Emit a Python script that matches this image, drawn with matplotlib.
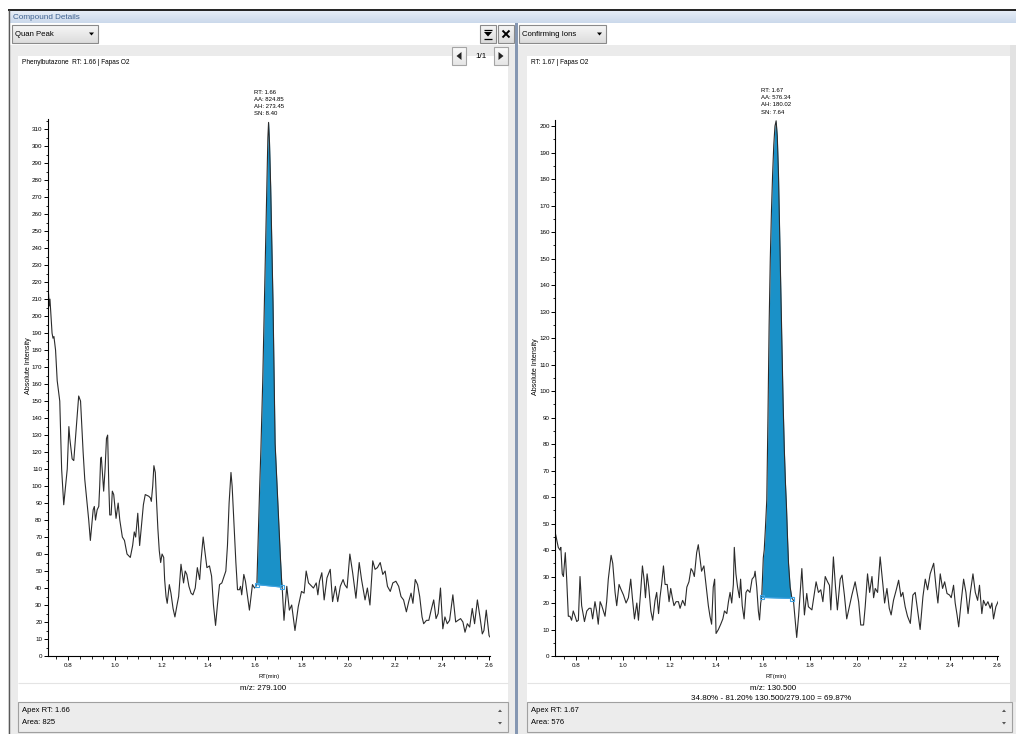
import numpy as np
import matplotlib
matplotlib.use("Agg")
import matplotlib.pyplot as plt
import matplotlib.colors as mcolors
from matplotlib.patches import Rectangle, Polygon
from matplotlib.ticker import MultipleLocator

# ---------------- data ----------------
quan_rt = [0.716, 0.719, 0.722, 0.731, 0.735, 0.739, 0.746, 0.753, 0.764, 0.772, 0.781, 0.796, 0.803, 0.807,
           0.817, 0.824, 0.845, 0.853, 0.864, 0.871, 0.881, 0.888, 0.895, 0.907, 0.912, 0.917, 0.924, 0.931,
           0.935, 0.939, 0.942, 0.952, 0.958, 0.964, 0.969, 0.974, 0.978, 0.984, 0.989, 0.995, 1.005, 1.014,
           1.021, 1.032, 1.041, 1.052, 1.066, 1.076, 1.083, 1.089, 1.098, 1.106, 1.116, 1.122, 1.130, 1.145,
           1.152, 1.156, 1.162, 1.167, 1.173, 1.177, 1.184, 1.190, 1.196, 1.202, 1.209, 1.213, 1.219, 1.224,
           1.233, 1.240, 1.249, 1.257, 1.266, 1.273, 1.283, 1.290, 1.294, 1.301, 1.308, 1.317, 1.326, 1.334,
           1.344, 1.353, 1.363, 1.368, 1.378, 1.384, 1.394, 1.405, 1.414, 1.422, 1.431, 1.439, 1.448, 1.458,
           1.468, 1.475, 1.482, 1.489, 1.497, 1.502, 1.509, 1.518, 1.525, 1.533, 1.538, 1.543, 1.552, 1.559,
           1.568, 1.576, 1.583, 1.589, 1.598, 1.604, 1.608, 1.612, 1.616, 1.620, 1.625, 1.629, 1.633, 1.638,
           1.643, 1.647, 1.651, 1.655, 1.658, 1.662, 1.667, 1.672, 1.677, 1.681, 1.686, 1.691, 1.697, 1.703,
           1.709, 1.714, 1.716, 1.724, 1.736, 1.747, 1.757, 1.771, 1.785, 1.799, 1.810, 1.819, 1.829, 1.843,
           1.850, 1.862, 1.869, 1.876, 1.886, 1.896, 1.908, 1.922, 1.932, 1.944, 1.954, 1.965, 1.977, 1.984,
           1.994, 2.006, 2.018, 2.032, 2.046, 2.056, 2.071, 2.081, 2.092, 2.104, 2.114, 2.124, 2.136, 2.147,
           2.157, 2.167, 2.179, 2.190, 2.203, 2.215, 2.225, 2.236, 2.248, 2.258, 2.268, 2.276, 2.286, 2.296,
           2.305, 2.315, 2.322, 2.334, 2.344, 2.354, 2.365, 2.375, 2.384, 2.394, 2.404, 2.413, 2.423, 2.433,
           2.447, 2.459, 2.469, 2.480, 2.490, 2.499, 2.509, 2.519, 2.530, 2.540, 2.552, 2.563, 2.573, 2.580,
           2.590, 2.602, 2.607]
quan_int = [213, 206, 210, 190, 187, 188, 180, 162, 150, 110, 89, 110, 135, 128,
            116, 115, 153, 150, 120, 104, 90, 80, 68, 86, 88, 80, 86, 88,
            100, 116, 117, 97, 110, 128, 130, 100, 83, 83, 97, 95, 81, 90,
            80, 70, 68, 60, 58, 65, 73, 70, 84, 65, 80, 89, 95, 94,
            93, 91, 100, 112, 108, 95, 75, 62, 55, 60, 58, 45, 35, 31,
            42, 37, 28, 23, 30, 35, 54, 47, 43, 50, 48, 41, 37, 36,
            40, 52, 45, 55, 70, 63, 52, 53, 47, 30, 18, 30, 42, 43,
            47, 50, 65, 90, 108, 100, 80, 55, 39, 39, 41, 36, 48, 44,
            35, 27, 35, 42, 40, 41, 43, 62, 82, 100, 121, 142, 162, 195,
            228, 255, 282, 305, 314, 302, 276, 242, 208, 170, 125, 110, 92, 74,
            57, 44, 41, 21, 41, 27, 30, 15, 29, 38, 37, 50, 43, 41,
            40, 43, 36, 44, 49, 33, 46, 51, 32, 41, 32, 41, 45, 42,
            40, 60, 49, 34, 55, 45, 33, 40, 30, 56, 51, 52, 55, 48,
            50, 41, 38, 43, 44, 41, 35, 33, 26, 32, 37, 31, 45, 42,
            35, 23, 19, 21, 21, 27, 33, 22, 25, 40, 16, 23, 19, 21,
            36, 20, 21, 22, 20, 14, 19, 17, 28, 19, 33, 23, 13, 15,
            27, 12, 11]

conf_rt = [0.710, 0.717, 0.724, 0.731, 0.735, 0.741, 0.746, 0.754, 0.760, 0.767, 0.774, 0.781, 0.788, 0.796,
           0.803, 0.810, 0.817, 0.824, 0.836, 0.846, 0.856, 0.864, 0.871, 0.881, 0.888, 0.895, 0.903, 0.910,
           0.917, 0.924, 0.931, 0.938, 0.950, 0.957, 0.967, 0.974, 0.984, 0.993, 1.003, 1.014, 1.024, 1.034,
           1.041, 1.050, 1.060, 1.067, 1.077, 1.084, 1.091, 1.097, 1.104, 1.111, 1.120, 1.128, 1.138, 1.145,
           1.153, 1.159, 1.166, 1.174, 1.181, 1.190, 1.198, 1.205, 1.212, 1.219, 1.228, 1.238, 1.245, 1.256,
           1.266, 1.274, 1.283, 1.292, 1.299, 1.306, 1.316, 1.323, 1.330, 1.337, 1.347, 1.356, 1.366, 1.373,
           1.380, 1.387, 1.393, 1.399, 1.409, 1.419, 1.428, 1.435, 1.445, 1.452, 1.459, 1.466, 1.473, 1.477,
           1.484, 1.491, 1.499, 1.504, 1.511, 1.519, 1.527, 1.534, 1.544, 1.553, 1.562, 1.566, 1.573, 1.580,
           1.585, 1.590, 1.594, 1.598, 1.601, 1.605, 1.610, 1.616, 1.621, 1.626, 1.631, 1.636, 1.641, 1.646,
           1.651, 1.656, 1.661, 1.666, 1.671, 1.676, 1.681, 1.686, 1.691, 1.696, 1.700, 1.705, 1.709, 1.716,
           1.723, 1.730, 1.744, 1.752, 1.766, 1.777, 1.787, 1.794, 1.809, 1.827, 1.837, 1.847, 1.856, 1.866,
           1.876, 1.884, 1.890, 1.901, 1.910, 1.918, 1.930, 1.938, 1.948, 1.958, 1.970, 1.980, 1.994, 2.009,
           2.018, 2.030, 2.037, 2.047, 2.056, 2.066, 2.073, 2.080, 2.090, 2.101, 2.113, 2.120, 2.130, 2.140,
           2.148, 2.158, 2.170, 2.180, 2.190, 2.198, 2.208, 2.218, 2.230, 2.241, 2.251, 2.261, 2.272, 2.284,
           2.294, 2.304, 2.315, 2.330, 2.340, 2.348, 2.358, 2.368, 2.377, 2.387, 2.398, 2.405, 2.415, 2.422,
           2.430, 2.437, 2.447, 2.458, 2.468, 2.477, 2.487, 2.498, 2.508, 2.518, 2.526, 2.536, 2.543, 2.553,
           2.562, 2.572, 2.579, 2.586, 2.596, 2.608]
conf_int = [47, 44, 41, 40, 41, 31, 30, 39, 29, 15, 15, 13.5, 17, 15,
            13, 13.5, 30, 19, 13, 17, 18, 18, 14, 20.5, 17, 12, 20.5, 19,
            17, 15, 20.5, 29, 38, 35, 24, 19, 27, 25, 23, 20, 22, 29,
            22, 14, 20, 13.5, 25, 34, 29, 22, 31, 26, 17, 13.5, 21, 24,
            16, 22, 27, 34, 27, 27, 20.5, 25.5, 22, 19, 20.5, 20.5, 18, 21,
            19, 26, 28, 33, 32, 30, 39, 42, 37, 32, 34, 27, 19, 15,
            12, 26, 29, 8.5, 10, 12, 14, 17, 16, 20.5, 24, 20, 27, 41,
            31, 26, 22, 29, 19, 14, 24, 25, 24, 29, 30, 32, 26, 17,
            13.6, 20, 22, 30, 37, 40, 48, 59, 90, 125, 150, 168, 182, 193,
            200, 202, 196, 182, 160, 138, 115, 95, 78, 65, 57, 44, 35, 26,
            22, 21, 7, 15, 33, 15.5, 23.6, 18.6, 17.4, 28, 24, 25, 20.5, 30,
            28, 26.7, 17.4, 37.4, 26, 17.4, 29, 30.5, 23, 14, 19, 23, 28, 20.5,
            11.7, 11.7, 18.6, 31, 24, 30, 22, 25.5, 24, 37.4, 26.7, 20, 25.5, 18,
            15.5, 21, 25, 28.6, 22.4, 24, 18.6, 15, 12.3, 23, 24, 17.4, 10, 22.4,
            29, 25, 31, 35, 26, 20, 31, 25.5, 28, 23.6, 23, 22, 26.7, 20,
            15.5, 11, 20, 29, 24, 16, 24, 31, 24, 21, 26.7, 16, 21, 19,
            20.5, 18, 20, 14, 18.6, 21]

# integration baselines: (start RT, start intensity, end RT, end intensity)
quan_baseline = [1.608, 42.0, 1.716, 40.5]
conf_baseline = [1.594, 22.1, 1.723, 21.7]
# peak labels
quan_peak = {"rt": 1.658, "height": 314, "lines": ["RT: 1.66", "AA: 824.85", "AH: 273.45", "SN: 8.40"]}
conf_peak = {"rt": 1.656, "height": 202, "lines": ["RT: 1.67", "AA: 576.34", "AH: 180.02", "SN: 7.64"]}

quan_title = "Phenylbutazone  RT: 1.66 | Fapas O2"
conf_title = "RT: 1.67 | Fapas O2"
quan_mz = "m/z: 279.100"
conf_mz = "m/z: 130.500"
conf_ratio = "34.80% - 81.20% 130.500/279.100 = 69.87%"
quan_info = ["Apex RT: 1.66", "Area: 825"]
conf_info = ["Apex RT: 1.67", "Area: 576"]

# ---------------- figure ----------------
plt.rcParams['font.family'] = ['Liberation Sans', 'DejaVu Sans']
W, H = 1016, 734
fig = plt.figure(figsize=(W / 100, H / 100), dpi=100)
ui = fig.add_axes([0, 0, 1, 1], zorder=0)
ui.axis('off')


def box(x0, y0, x1, y1, fc, ec='none', lw=0.8, z=1):
    ui.add_patch(Rectangle((x0, y0), x1 - x0, y1 - y0, facecolor=fc, edgecolor=ec, linewidth=lw, zorder=z))


def grad(x0, y0, x1, y1, c0, c1, z=1):
    g = np.linspace(0, 1, 32)[:, None, None]
    a = np.array(mcolors.to_rgb(c0))[None, None, :]
    b = np.array(mcolors.to_rgb(c1))[None, None, :]
    ui.imshow(a + (b - a) * g, extent=(x0, x1, y1, y0), aspect='auto', zorder=z, interpolation='bilinear')


def line(xs, ys, c, lw=0.8, z=3):
    ui.plot(xs, ys, color=c, lw=lw, zorder=z, solid_capstyle='butt')


def dropdown(x0, x1, label):
    grad(x0, 25, x1, 43, '#f7f7f7', '#dcdcdc', z=2)
    box(x0, 25, x1, 43, 'none', ec='#8a8a8a', lw=0.8, z=3)
    ui.text(x0 + 3, 34.5, label, fontsize=5.6, va='center', ha='left', zorder=4)
    ui.add_patch(Polygon([[x1 - 9, 32.5], [x1 - 4, 32.5], [x1 - 6.5, 35.5]], closed=True, fc='black', ec='none', zorder=4))


box(0, 0, W, H, 'white', z=0)
box(8, 10, W, H, '#ebebeb', z=1)
grad(9, 11, W, 23, '#e6edf7', '#cbd9eb', z=2)
ui.text(13, 17.5, 'Compound Details', fontsize=5.9, color='#3f6290', va='center', ha='left', zorder=4)
line([8, W], [10, 10], '#111111', lw=1.3)
line([8.5, 8.5], [10, H], '#5a5a5a', lw=1.0)
box(9, 23, W, 45, 'white', z=2)

dropdown(12, 98, 'Quan Peak')
dropdown(519, 606, 'Confirming Ions')

# filter & close buttons
grad(480, 25, 496, 43, '#f7f7f7', '#dcdcdc', z=2)
box(480, 25, 496, 43, 'none', ec='#8a8a8a', z=3)
line([484, 492], [29.5, 29.5], 'black', lw=0.9, z=4)
ui.add_patch(Polygon([[484, 32], [492, 32], [488, 36.5]], closed=True, fc='black', ec='none', zorder=4))
line([484, 492], [38.5, 38.5], 'black', lw=0.9, z=4)
grad(498, 25, 514, 43, '#f7f7f7', '#dcdcdc', z=2)
box(498, 25, 514, 43, 'none', ec='#8a8a8a', z=3)
line([502.5, 509.5], [30.5, 37.5], 'black', lw=1.4, z=4)
line([502.5, 509.5], [37.5, 30.5], 'black', lw=1.4, z=4)

# splitter
box(514.5, 23, 518, H, '#8597b2', z=2)

# plot cards
box(18, 56, 508, 702, 'white', z=2)
line([18, 508], [683, 683], '#e4e4e4', lw=0.8)
box(527, 56, 1010, 702, 'white', z=2)
line([527, 1010], [683, 683], '#e4e4e4', lw=0.8)
box(1010, 45, W, 702, '#e2e2e2', z=2)

# pager
for bx0, pts in [(452, [[461.5, 52], [461.5, 60], [456.5, 56]]), (494, [[498.5, 52], [498.5, 60], [503.5, 56]])]:
    grad(bx0, 47, bx0 + 14, 65, '#fbfbfb', '#e6e6e6', z=3)
    box(bx0, 47, bx0 + 14, 65, 'none', ec='#a5a5a5', z=4)
    ui.add_patch(Polygon(pts, closed=True, fc='#222222', ec='none', zorder=5))
ui.text(481, 56.5, '1/1', fontsize=5.8, va='center', ha='center', zorder=5)

# titles
ui.text(22, 62, quan_title, fontsize=4.7, va='center', ha='left', zorder=5)
ui.text(531, 62, conf_title, fontsize=4.7, va='center', ha='left', zorder=5)

# m/z captions
ui.text(263, 689, quan_mz, fontsize=5.8, va='center', ha='center', zorder=5)
ui.text(773, 689, conf_mz, fontsize=5.8, va='center', ha='center', zorder=5)
ui.text(771, 699, conf_ratio, fontsize=5.8, va='center', ha='center', zorder=5)

# info boxes
for x0, x1, info in [(18, 508, quan_info), (527, 1012, conf_info)]:
    box(x0, 702, x1, 732, '#ececec', ec='#a0a0a0', lw=0.8, z=6)
    ui.text(x0 + 4, 711, info[0], fontsize=5.5, va='center', ha='left', zorder=7)
    ui.text(x0 + 4, 723, info[1], fontsize=5.5, va='center', ha='left', zorder=7)
    ui.add_patch(Polygon([[x1 - 10, 712], [x1 - 6, 712], [x1 - 8, 709.5]], closed=True, fc='#555555', ec='none', zorder=7))
    ui.add_patch(Polygon([[x1 - 10, 722], [x1 - 6, 722], [x1 - 8, 724.5]], closed=True, fc='#555555', ec='none', zorder=7))

ui.set_xlim(0, W)
ui.set_ylim(H, 0)

# ---------------- chromatograms ----------------
FILL = '#1a91c8'
BASE = '#3ea4e4'


def chrom(rect, rt, inten, xlim, ylim, ytop_tick, baseline, peak):
    ax = fig.add_axes(rect, zorder=2)
    ax.set_facecolor('none')
    rt = np.asarray(rt, float)
    inten = np.asarray(inten, float)
    s, sv, e, ev = baseline
    m = (rt >= s - 1e-9) & (rt <= e + 1e-9)
    seg = rt[m]
    base = np.interp(seg, [s, e], [sv, ev])
    ax.fill_between(seg, base, inten[m], color=FILL, lw=0, zorder=1)
    ax.plot(rt, inten, color='#2b2b2b', lw=0.8, zorder=2)
    ax.plot([s, e], [sv, ev], color=BASE, lw=0.8, zorder=3, marker='s', ms=3.2,
            mfc='none', mec=BASE, mew=0.8)
    ax.annotate("\n".join(peak["lines"]), xy=(peak["rt"], peak["height"]), xytext=(0, 4.5),
                textcoords='offset points', ha='center', va='bottom', multialignment='left',
                fontsize=4.3, linespacing=1.55, annotation_clip=False, zorder=4)
    ax.set_xlim(*xlim)
    ax.set_ylim(*ylim)
    for sp in ('top', 'right'):
        ax.spines[sp].set_visible(False)
    for sp in ('left', 'bottom'):
        ax.spines[sp].set_linewidth(0.8)
    ax.set_yticks(np.arange(0, ytop_tick + 1, 10))
    ax.yaxis.set_minor_locator(MultipleLocator(5))
    ax.xaxis.set_major_locator(MultipleLocator(0.2))
    ax.xaxis.set_minor_locator(MultipleLocator(0.05))
    ax.xaxis.set_major_formatter(matplotlib.ticker.FormatStrFormatter('%.1f'))
    ax.tick_params(axis='both', which='major', direction='out', length=3, width=0.7, labelsize=4.5, pad=0.8)
    ax.tick_params(axis='x', which='major', pad=1.8)
    ax.tick_params(axis='both', which='minor', direction='out', length=1.8, width=0.6)
    ax.set_xlabel('RT(min)', fontsize=4.2)
    ax.xaxis.set_label_coords(0.5, -0.033)
    ax.set_ylabel('Absolute Intensity', fontsize=5.1)
    return ax


axl = chrom([47.5 / W, (H - 656) / H, (490 - 47.5) / W, (656 - 119) / H],
            quan_rt, quan_int, (0.7115, 2.606), (0, 316), 310, quan_baseline, quan_peak)
axl.yaxis.set_label_coords(-0.034, 0.54)
axr = chrom([555 / W, (H - 656) / H, (997.5 - 555) / W, (656 - 120) / H],
            conf_rt, conf_int, (0.710, 2.603), (0, 202.3), 200, conf_baseline, conf_peak)
axr.yaxis.set_label_coords(-0.036, 0.54)

fig.savefig('out.png', dpi=100)
